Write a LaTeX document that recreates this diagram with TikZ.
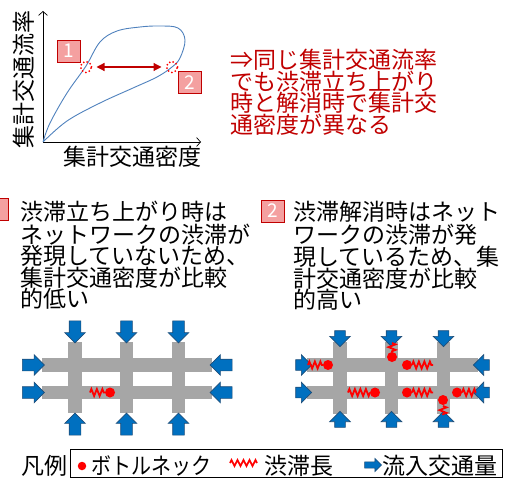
\documentclass[tikz,border=0pt]{standalone}
\usepackage{fontspec}
\setmainfont{Noto Sans CJK JP}
\usetikzlibrary{shapes.arrows,arrows.meta,decorations.pathmorphing}
\definecolor{dred}{HTML}{C00000}
\definecolor{boxfill}{HTML}{F4A0A0}
\definecolor{road}{HTML}{A6A6A6}
\definecolor{flow}{HTML}{0070C0}
\definecolor{flowline}{HTML}{1F4E79}
\definecolor{curvecol}{HTML}{4F81BD}
\definecolor{bred}{HTML}{FF0000}
\tikzset{
  numbox/.style={draw=dred, fill=boxfill, line width=0.8pt, text=white, inner sep=0,
    minimum width=23, minimum height=22, font=\fontsize{19}{19}\selectfont},
  txt/.style={align=left, anchor=north west, inner sep=0, font=\fontsize{23}{21.5}\selectfont},
  redtxt/.style={align=left, anchor=north west, inner sep=0, text=dred, font=\fontsize{23}{21.7}\selectfont},
  axlabel/.style={inner sep=0, font=\fontsize{23}{23}\selectfont},
  legtxt/.style={inner sep=0, anchor=west, font=\fontsize{23}{23}\selectfont},
  bigarrow/.style={single arrow, draw=flowline, fill=flow, line width=0.6pt, inner sep=5.5,
    single arrow head extend=4.5, minimum width=0, minimum height=22},
  smallarrow/.style={single arrow, draw=flowline, fill=flow, line width=0.6pt, inner sep=5,
    single arrow head extend=5, minimum width=0, minimum height=12},
  legarrow/.style={single arrow, draw=flowline, fill=flow, line width=0.6pt, inner sep=2.8,
    single arrow head extend=3.5, minimum width=0, minimum height=17},
  roadbar/.style={fill=road},
  jam/.style={draw=bred, line width=1.8pt, line join=miter, decorate, decoration={zigzag, segment length=5.5pt, amplitude=3.5pt}},
  bneck/.style={circle, fill=bred, inner sep=0, minimum size=10},
  marker/.style={circle, draw=bred, line width=2pt, line cap=round, dash pattern=on 0pt off 3.6pt, inner sep=0, minimum size=11},
}
\begin{document}
\begin{tikzpicture}[x=1pt,y=-1pt]
\useasboundingbox (0,0) rectangle (510,478);
\clip (0,0) rectangle (510,478);

% ---------- chart ----------
\coordinate (O) at (43,142);
\coordinate (Ytop) at (43,11);
\coordinate (Xend) at (201,142);
\draw[line width=0.7pt, -{Straight Barb[length=4pt,width=9pt]}] (O) -- (Ytop);
\draw[line width=0.7pt, -{Straight Barb[length=4pt,width=9pt]}] (O) -- (Xend);
\node[axlabel, rotate=90] (ylab) at (24,80) {集計交通流率};
\node[axlabel] (xlab) at (132.5,157) {集計交通密度};

\draw[curvecol, line width=0.9pt] plot[smooth, tension=0.6] coordinates {
  (43,142) (50,123) (67,93) (86,66) (100,42) (117,31) (140,27) (160,26) (178,28) (185,40) (180,58) (172,67)
  (157,77) (133,88) (100,103) (67,121) (43,142)};

\node[marker] (m1) at (86,67) {};
\node[marker] (m2) at (172,67) {};
\draw[dred, line width=1.2pt, {Triangle[length=8pt,width=8pt]}-{Triangle[length=8pt,width=8pt]}, shorten <=4pt, shorten >=4pt] (m1) -- (m2);
\node[numbox] (b1) at (68.5,51) {1};
\node[numbox] (b2) at (189.5,82.5) {2};

\node[redtxt] (concl) at (230,49) {⇒同じ集計交通流率\\でも渋滞立ち上がり\\時と解消時で集計交\\通密度が異なる};

% ---------- explanations ----------
\node[numbox] (c1) at (-3,209.5) {};
\node[txt] (t1) at (20,201) {渋滞立ち上がり時は\\ネットワークの渋滞が\\発現していないため、\\集計交通密度が比較\\的低い};
\node[numbox] (c2) at (272.5,211) {2};
\node[txt] (t2) at (293,201) {渋滞解消時はネット\\ワークの渋滞が発\\現しているため、集\\計交通密度が比較\\的高い};

% ---------- left network ----------
\fill[roadbar] (42,358) rectangle (212,372);
\fill[roadbar] (42,386) rectangle (212,399);
\fill[roadbar] (68,342) rectangle (82,413);
\fill[roadbar] (120,342) rectangle (133,413);
\fill[roadbar] (172,342) rectangle (185,413);
\foreach \x/\n in {75/a,126.5/b,178.5/c}{
  \node[bigarrow, shape border rotate=270] (Ltop\n) at (\x,329) {};
  \node[bigarrow, shape border rotate=90] (Lbot\n) at (\x,427) {};
}
\foreach \y/\n in {365/a,392.5/b}{
  \node[bigarrow, shape border rotate=0] (Lleft\n) at (30.5,\y) {};
  \node[bigarrow, shape border rotate=180] (Lright\n) at (224,\y) {};
}
\draw[jam] (90,392.5) -- (105,392.5);
\node[bneck] (Lb1) at (110,392.5) {};

% ---------- right network ----------
\fill[roadbar] (307,358) rectangle (478,372);
\fill[roadbar] (307,386) rectangle (478,399);
\fill[roadbar] (333,342) rectangle (347,414);
\fill[roadbar] (385,342) rectangle (398,414);
\fill[roadbar] (437,342) rectangle (450,414);
\foreach \x/\n in {340/a,391.5/b,443.5/c}{
  \node[smallarrow, shape border rotate=270] (Rtop\n) at (\x,336) {};
  \node[smallarrow, shape border rotate=90] (Rbot\n) at (\x,422) {};
}
\foreach \y/\n in {365/a,392.5/b}{
  \node[smallarrow, shape border rotate=0] (Rleft\n) at (301,\y) {};
  \node[smallarrow, shape border rotate=180] (Rright\n) at (484,\y) {};
}
\draw[jam] (308,365) -- (323,365);
\node[bneck] (Rb1) at (328,365) {};
\draw[jam] (392,343) -- (392,352);
\node[bneck] (Rb2) at (392,357) {};
\node[bneck] (Rb3) at (407,365) {};
\draw[jam] (412,365) -- (433,365);
\draw[jam] (348,392.5) -- (370,392.5);
\node[bneck] (Rb4) at (375,392.5) {};
\node[bneck] (Rb5) at (407,392.5) {};
\draw[jam] (412,392.5) -- (433,392.5);
\node[bneck] (Rb6) at (457,392.5) {};
\draw[jam] (462,392.5) -- (476,392.5);
\node[bneck] (Rb7) at (443,400) {};
\draw[jam] (443,406) -- (443,415);

% ---------- legend ----------
\node[legtxt, anchor=center] (lg) at (44,466) {凡例};
\draw[line width=0.8pt] (70,449) rectangle (502,477);
\node[bneck, minimum size=8.5] (lgdot) at (82,466) {};
\node[legtxt] (lgbn) at (91,466) {\scalebox{0.87}[1]{ボトルネック}};
\draw[jam, line width=1.6pt, decoration={zigzag, segment length=6pt, amplitude=3pt}] (230,463) -- (257,463);
\node[legtxt] (lgjam) at (264,466) {渋滞長};
\node[legarrow, shape border rotate=0] (lgar) at (371.5,465) {};
\node[legtxt] (lgflow) at (382,466) {流入交通量};
\end{tikzpicture}
\end{document}
